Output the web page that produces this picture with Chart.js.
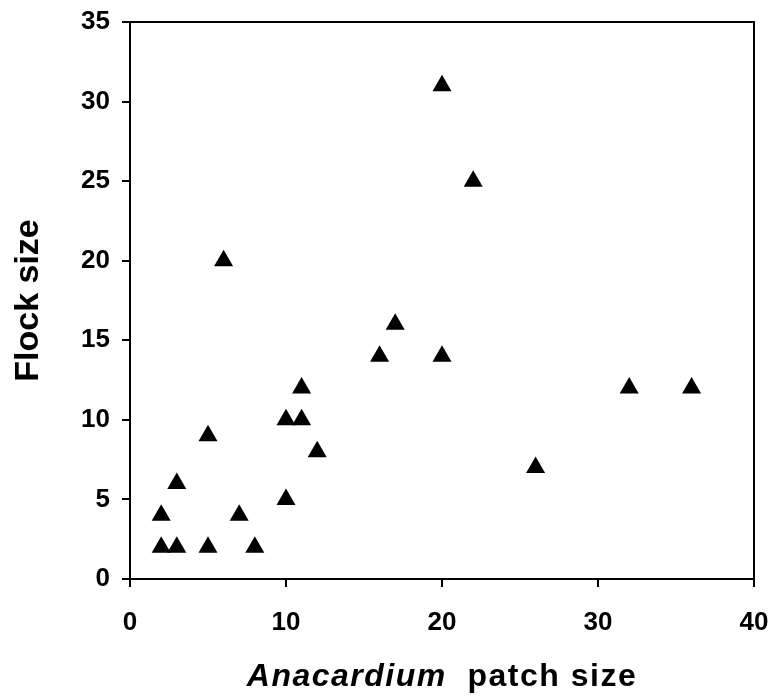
<!DOCTYPE html>
<html>
<head>
<meta charset="utf-8">
<script src="https://cdn.jsdelivr.net/npm/chart.js@4"></script>
<style>
html,body{margin:0;padding:0;background:#fff;}
#wrap{width:774px;height:700px;}
</style>
</head>
<body>
<div id="wrap"><canvas id="c" width="774" height="700"></canvas></div>
<script>
// Data
const patchSize = [2, 2, 3, 3, 5, 5, 6, 7, 8, 10, 10, 11, 11, 12, 16, 17, 20, 20, 22, 26, 32, 36];
const flockSize = [4, 2, 2, 6, 2, 9, 20, 4, 2, 5, 10, 10, 12, 8, 14, 16, 14, 31, 25, 7, 12, 12];
const xTicks = [0, 10, 20, 30, 40];
const yTicks = [0, 5, 10, 15, 20, 25, 30, 35];
const xTitleItalic = 'Anacardium';
const xTitleRest = 'patch size';
const yTitle = 'Flock size';

const points = patchSize.map((x, i) => ({x: x, y: flockSize[i]}));

const frame = {
  id: 'frame',
  afterDraw(chart) {
    const {ctx, chartArea: a} = chart;
    ctx.save();
    ctx.strokeStyle = '#000';
    ctx.lineWidth = 2;
    ctx.strokeRect(a.left, a.top, a.right - a.left, a.bottom - a.top);
    // x-axis title with italic genus name
    const size = 32;
    const fItal = 'italic bold ' + size + 'px "Liberation Sans", Arial, sans-serif';
    const fBold = 'bold ' + size + 'px "Liberation Sans", Arial, sans-serif';
    ctx.fillStyle = '#000';
    ctx.textBaseline = 'alphabetic';
    ctx.letterSpacing = '1.5px';
    ctx.font = fItal;
    const w1 = ctx.measureText(xTitleItalic).width;
    ctx.font = fBold;
    const gap = ctx.measureText('  ').width;
    const w2 = ctx.measureText(xTitleRest).width;
    const total = w1 + gap + w2;
    const cx = (a.left + a.right) / 2;
    let x0 = cx - total / 2;
    const yb = 686;
    ctx.textAlign = 'left';
    ctx.font = fItal;
    ctx.fillText(xTitleItalic, x0, yb);
    ctx.font = fBold;
    ctx.fillText(xTitleRest, x0 + w1 + gap, yb);
    ctx.restore();
  }
};

const tickFont = {family: '"Liberation Sans", Arial, sans-serif', weight: 'bold', size: 26};

new Chart(document.getElementById('c'), {
  type: 'scatter',
  data: {
    datasets: [{
      data: points,
      pointStyle: 'triangle',
      pointRadius: 11,
      pointHoverRadius: 11,
      backgroundColor: '#000',
      borderColor: '#000',
      borderWidth: 0
    }]
  },
  options: {
    responsive: false,
    animation: false,
    devicePixelRatio: 1,
    layout: {padding: {left: 0, top: 22, right: 20, bottom: 0}},
    plugins: {legend: {display: false}, tooltip: {enabled: false}},
    scales: {
      x: {
        type: 'linear',
        min: 0, max: 40,
        afterBuildTicks(scale) { scale.ticks = xTicks.map(v => ({value: v})); },
        afterFit(scale) { scale.height = 121; scale.paddingLeft = 0; scale.paddingRight = 0; },
        grid: {display: true, drawOnChartArea: false, drawTicks: true, tickLength: 8, color: '#000', lineWidth: 2},
        border: {display: true, color: '#000', width: 2},
        ticks: {color: '#000', font: tickFont, padding: 20, maxRotation: 0}
      },
      y: {
        type: 'linear',
        min: 0, max: 35,
        afterBuildTicks(scale) { scale.ticks = yTicks.map(v => ({value: v})); },
        afterFit(scale) { scale.width = 130; scale.paddingTop = 0; scale.paddingBottom = 0; },
        grid: {display: true, drawOnChartArea: false, drawTicks: true, tickLength: 8, color: '#000', lineWidth: 2},
        border: {display: true, color: '#000', width: 2},
        ticks: {color: '#000', font: tickFont, padding: 12},
        title: {
          display: true,
          text: yTitle,
          color: '#000',
          font: {family: '"Liberation Sans", Arial, sans-serif', weight: 'bold', size: 34},
          padding: {top: 8, bottom: 0}
        }
      }
    }
  },
  plugins: [frame]
});
</script>
</body>
</html>
